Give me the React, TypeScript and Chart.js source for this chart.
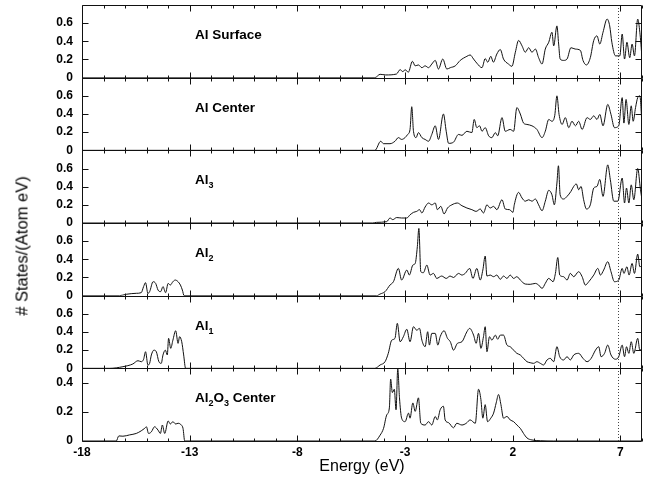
import { useEffect, useRef } from 'react';
import { Chart, registerables } from 'chart.js';

Chart.register(...registerables);

const FONT = '"Liberation Sans", Arial, Helvetica, sans-serif';

const X_TICKS = [-18, -13, -8, -3, 2, 7];
const Y_TICKS = [0, 0.2, 0.4, 0.6];
const Y_TICKS_OXIDE = [0, 0.2, 0.4];
const FERMI_EV = 6.9;

const alSurface: [number, number][] = [
  [-18, 0], [-4.4, 0], [-4.16, 0.037], [-3.9, 0.03], [-3.4, 0.04], [-3.23, 0.088], [-3.1, 0.066], [-3.0, 0.088],
  [-2.85, 0.06], [-2.66, 0.18], [-2.53, 0.13], [-2.38, 0.14], [-2.22, 0.11], [-2.07, 0.13], [-1.91, 0.11],
  [-1.76, 0.15], [-1.6, 0.19], [-1.45, 0.095], [-1.25, 0.205], [-1.06, 0.095], [-0.9, 0.11], [-0.67, 0.13],
  [-0.44, 0.19], [-0.13, 0.235], [0.02, 0.25], [0.18, 0.205], [0.33, 0.16], [0.57, 0.11], [0.72, 0.21],
  [0.84, 0.17], [0.98, 0.235], [1.1, 0.17], [1.26, 0.26], [1.42, 0.31], [1.57, 0.205], [1.8, 0.15],
  [1.96, 0.125], [2.12, 0.28], [2.27, 0.41], [2.43, 0.35], [2.58, 0.28], [2.74, 0.33], [2.89, 0.28],
  [3.05, 0.315], [3.2, 0.22], [3.36, 0.15], [3.51, 0.315], [3.67, 0.39], [3.82, 0.5], [3.9, 0.35],
  [4.05, 0.57], [4.13, 0.37], [4.2, 0.205], [4.36, 0.19], [4.52, 0.205], [4.7, 0.33], [4.9, 0.315],
  [5.14, 0.3], [5.26, 0.19], [5.42, 0.14], [5.6, 0.22], [5.76, 0.41], [5.91, 0.46], [6.04, 0.37],
  [6.19, 0.5], [6.38, 0.645], [6.5, 0.57], [6.6, 0.39], [6.77, 0.24], [6.97, 0.24], [7.08, 0.48],
  [7.19, 0.205], [7.3, 0.39], [7.43, 0.22], [7.54, 0.37], [7.65, 0.24], [7.8, 0.645], [7.9, 0.5], [8.0, 0.22],
];

const alCenter: [number, number][] = [
  [-18, 0], [-4.4, 0], [-4.13, 0.1], [-4.0, 0.073], [-3.7, 0.073], [-3.47, 0.1], [-3.31, 0.14], [-3.16, 0.12],
  [-3.0, 0.14], [-2.88, 0.175], [-2.77, 0.23], [-2.69, 0.48], [-2.61, 0.21], [-2.49, 0.14], [-2.38, 0.195],
  [-2.22, 0.14], [-2.07, 0.12], [-1.91, 0.1], [-1.76, 0.175], [-1.6, 0.27], [-1.45, 0.12], [-1.22, 0.4],
  [-1.09, 0.21], [-0.98, 0.077], [-0.75, 0.09], [-0.52, 0.175], [-0.36, 0.165], [-0.13, 0.21], [0.1, 0.195],
  [0.21, 0.34], [0.33, 0.25], [0.46, 0.27], [0.57, 0.21], [0.72, 0.25], [0.88, 0.16], [1.03, 0.14],
  [1.19, 0.195], [1.3, 0.16], [1.5, 0.36], [1.65, 0.21], [1.88, 0.23], [2.04, 0.21], [2.19, 0.47],
  [2.35, 0.4], [2.5, 0.3], [2.66, 0.285], [2.89, 0.27], [3.12, 0.23], [3.36, 0.14], [3.51, 0.21],
  [3.67, 0.34], [3.82, 0.32], [3.95, 0.385], [4.05, 0.6], [4.15, 0.395], [4.29, 0.285], [4.44, 0.36],
  [4.6, 0.25], [4.75, 0.32], [4.91, 0.27], [5.06, 0.32], [5.22, 0.23], [5.45, 0.36], [5.6, 0.34],
  [5.76, 0.38], [5.91, 0.34], [6.04, 0.395], [6.19, 0.27], [6.41, 0.505], [6.56, 0.395], [6.72, 0.25],
  [6.92, 0.27], [7.08, 0.58], [7.16, 0.3], [7.26, 0.56], [7.39, 0.285], [7.5, 0.49], [7.59, 0.32],
  [7.7, 0.47], [7.8, 0.58], [7.9, 0.6], [8.0, 0.285],
];

const al3: [number, number][] = [
  [-18, 0], [-4.5, 0], [-4.32, 0.007], [-3.85, 0.015], [-3.7, 0.055], [-3.57, 0.037], [-3.39, 0.06],
  [-3.16, 0.055], [-2.92, 0.055], [-2.77, 0.09], [-2.61, 0.117], [-2.46, 0.128], [-2.33, 0.147],
  [-2.22, 0.11], [-2.07, 0.176], [-1.91, 0.22], [-1.76, 0.2], [-1.6, 0.22], [-1.5, 0.147], [-1.34, 0.183],
  [-1.19, 0.1], [-1.03, 0.165], [-0.83, 0.2], [-0.57, 0.22], [-0.36, 0.19], [-0.13, 0.165], [0.1, 0.147],
  [0.3, 0.128], [0.49, 0.154], [0.64, 0.11], [0.8, 0.2], [0.95, 0.165], [1.11, 0.183], [1.26, 0.147],
  [1.5, 0.256], [1.65, 0.154], [1.85, 0.147], [2.01, 0.117], [2.07, 0.2], [2.27, 0.337], [2.43, 0.275],
  [2.58, 0.24], [2.74, 0.256], [2.89, 0.24], [3.05, 0.264], [3.2, 0.2], [3.36, 0.135], [3.51, 0.24],
  [3.67, 0.36], [3.82, 0.31], [3.93, 0.2], [4.05, 0.44], [4.12, 0.63], [4.2, 0.31], [4.36, 0.264],
  [4.52, 0.293], [4.7, 0.348], [4.83, 0.403], [4.95, 0.43], [5.06, 0.366], [5.17, 0.403], [5.29, 0.256],
  [5.42, 0.154], [5.6, 0.2], [5.76, 0.385], [5.91, 0.403], [6.04, 0.48], [6.19, 0.293], [6.41, 0.64],
  [6.53, 0.476], [6.69, 0.24], [6.88, 0.24], [7.08, 0.495], [7.19, 0.22], [7.28, 0.385], [7.39, 0.22],
  [7.5, 0.42], [7.62, 0.256], [7.8, 0.6], [7.93, 0.366], [8.0, 0.256],
];

const al2: [number, number][] = [
  [-18, 0], [-16.26, 0], [-15.95, 0.015], [-15.48, 0.026], [-15.25, 0.033], [-15.14, 0.1], [-15.05, 0.143],
  [-14.94, 0.026], [-14.86, 0.044], [-14.7, 0.154], [-14.58, 0.135], [-14.47, 0.062], [-14.35, 0.044],
  [-14.24, 0.1], [-14.12, 0.033], [-14.0, 0.135], [-13.9, 0.117], [-13.78, 0.154], [-13.67, 0.172],
  [-13.54, 0.154], [-13.43, 0.117], [-13.34, 0.062], [-13.26, 0],
  [-4.32, 0], [-4.16, 0.018], [-3.93, 0.044], [-3.7, 0.117], [-3.54, 0.154], [-3.31, 0.3], [-3.16, 0.172],
  [-2.92, 0.282], [-2.8, 0.227], [-2.64, 0.337], [-2.53, 0.355], [-2.43, 0.54], [-2.36, 0.74], [-2.27, 0.264],
  [-2.15, 0.253], [-1.99, 0.337], [-1.84, 0.227], [-1.68, 0.245], [-1.53, 0.19], [-1.3, 0.216], [-1.09, 0.19],
  [-0.91, 0.216], [-0.75, 0.2], [-0.52, 0.245], [-0.36, 0.227], [-0.21, 0.245], [0.0, 0.3], [0.15, 0.19],
  [0.33, 0.3], [0.49, 0.172], [0.61, 0.282], [0.72, 0.436], [0.8, 0.216], [0.95, 0.227], [1.11, 0.209],
  [1.26, 0.227], [1.42, 0.18], [1.57, 0.216], [1.73, 0.19], [1.88, 0.227], [2.04, 0.19], [2.19, 0.209],
  [2.35, 0.172], [2.58, 0.128], [2.81, 0.125], [3.05, 0.135], [3.2, 0.117], [3.36, 0.08], [3.51, 0.135],
  [3.67, 0.19], [3.87, 0.154], [3.98, 0.245], [4.09, 0.42], [4.18, 0.227], [4.36, 0.209], [4.52, 0.172],
  [4.67, 0.245], [4.83, 0.209], [5.06, 0.264], [5.22, 0.209], [5.37, 0.117], [5.53, 0.154], [5.76, 0.227],
  [5.95, 0.3], [6.07, 0.227], [6.22, 0.282], [6.41, 0.374], [6.56, 0.264], [6.72, 0.154], [6.92, 0.172],
  [7.08, 0.3], [7.16, 0.245], [7.3, 0.318], [7.4, 0.227], [7.54, 0.355], [7.65, 0.245], [7.8, 0.458],
  [7.9, 0.318], [8.0, 0.337],
];

const al1: [number, number][] = [
  [-18, 0], [-16.72, 0], [-16.1, 0.018], [-15.64, 0.048], [-15.4, 0.084], [-15.25, 0.073], [-15.14, 0.1],
  [-15.05, 0.183], [-14.94, 0.037], [-14.86, 0.055], [-14.78, 0.147], [-14.66, 0.2], [-14.55, 0.183],
  [-14.43, 0.073], [-14.32, 0.055], [-14.24, 0.147], [-14.13, 0.2], [-14.04, 0.147], [-13.98, 0.33],
  [-13.88, 0.22], [-13.78, 0.31], [-13.65, 0.414], [-13.54, 0.275], [-13.47, 0.348], [-13.37, 0.293],
  [-13.28, 0.147], [-13.19, 0],
  [-4.4, 0], [-4.16, 0.037], [-3.93, 0.073], [-3.78, 0.165], [-3.62, 0.31], [-3.47, 0.33], [-3.36, 0.495],
  [-3.23, 0.293], [-3.08, 0.348], [-2.92, 0.43], [-2.77, 0.293], [-2.61, 0.458], [-2.46, 0.42], [-2.33, 0.44],
  [-2.22, 0.31], [-2.07, 0.238], [-1.95, 0.403], [-1.87, 0.256], [-1.76, 0.385], [-1.6, 0.385], [-1.48, 0.256],
  [-1.37, 0.348], [-1.19, 0.414], [-1.03, 0.33], [-0.9, 0.293], [-0.75, 0.2], [-0.57, 0.275], [-0.36, 0.293],
  [-0.13, 0.403], [0.0, 0.44], [0.18, 0.366], [0.3, 0.275], [0.41, 0.385], [0.52, 0.22], [0.64, 0.348],
  [0.72, 0.458], [0.8, 0.183], [0.92, 0.348], [1.03, 0.31], [1.19, 0.366], [1.3, 0.32], [1.42, 0.366],
  [1.57, 0.366], [1.73, 0.256], [1.88, 0.238], [2.04, 0.2], [2.19, 0.165], [2.35, 0.147], [2.5, 0.11],
  [2.66, 0.073], [2.81, 0.062], [2.97, 0.055], [3.12, 0.073], [3.28, 0.055], [3.43, 0.037], [3.59, 0.092],
  [3.74, 0.11], [3.9, 0.073], [4.05, 0.238], [4.18, 0.128], [4.36, 0.092], [4.52, 0.128], [4.67, 0.092],
  [4.83, 0.147], [5.06, 0.165], [5.26, 0.11], [5.45, 0.073], [5.64, 0.11], [5.84, 0.2], [5.99, 0.238],
  [6.1, 0.128], [6.26, 0.165], [6.41, 0.256], [6.56, 0.147], [6.77, 0.1], [6.92, 0.128], [7.08, 0.256],
  [7.19, 0.128], [7.28, 0.238], [7.39, 0.165], [7.5, 0.293], [7.62, 0.165], [7.8, 0.33], [7.9, 0.2], [8.0, 0.22],
];

const al2o3Center: [number, number][] = [
  [-18, 0], [-16.41, 0], [-16.29, 0.035], [-16.1, 0.033], [-15.79, 0.042], [-15.48, 0.052], [-15.25, 0.07],
  [-15.09, 0.087], [-15.01, 0.098], [-14.91, 0.052], [-14.78, 0.063], [-14.63, 0.098], [-14.47, 0.075],
  [-14.36, 0.052], [-14.27, 0.11], [-14.16, 0.052], [-14.0, 0.138], [-13.9, 0.117], [-13.78, 0.133],
  [-13.65, 0.117], [-13.54, 0.122], [-13.39, 0.11], [-13.31, 0.087], [-13.23, 0],
  [-4.4, 0], [-4.16, 0.04], [-4.0, 0.087], [-3.85, 0.18], [-3.73, 0.227], [-3.67, 0.426], [-3.59, 0.333],
  [-3.5, 0.356], [-3.42, 0.215], [-3.34, 0.496], [-3.26, 0.297], [-3.16, 0.157], [-3.0, 0.133], [-2.84, 0.192],
  [-2.77, 0.157], [-2.64, 0.262], [-2.53, 0.204], [-2.38, 0.297], [-2.27, 0.122], [-2.07, 0.11], [-1.91, 0.133],
  [-1.76, 0.11], [-1.6, 0.169], [-1.5, 0.145], [-1.37, 0.215], [-1.22, 0.239], [-1.14, 0.145], [-0.98, 0.126],
  [-0.75, 0.091], [-0.6, 0.122], [-0.36, 0.11], [-0.16, 0.122], [0.02, 0.145], [0.26, 0.122], [0.41, 0.356],
  [0.52, 0.286], [0.61, 0.157], [0.72, 0.25], [0.83, 0.133], [0.98, 0.157], [1.11, 0.192], [1.23, 0.262],
  [1.34, 0.32], [1.45, 0.25], [1.57, 0.157], [1.73, 0.169], [1.88, 0.145], [2.04, 0.133], [2.19, 0.11],
  [2.35, 0.087], [2.5, 0.052], [2.66, 0.021], [2.89, 0.007], [3.28, 0.002], [3.9, 0], [8.0, 0],
];

type Seg = [string, boolean];

const PANELS: { id: string; label: Seg[]; data: [number, number][]; max: number; ticks: number[] }[] = [
  { id: 'pSurf', label: [['Al Surface', false]], data: alSurface, max: 0.8, ticks: Y_TICKS },
  { id: 'pCent', label: [['Al Center', false]], data: alCenter, max: 0.8, ticks: Y_TICKS },
  { id: 'pAl3', label: [['Al', false], ['3', true]], data: al3, max: 0.8, ticks: Y_TICKS },
  { id: 'pAl2', label: [['Al', false], ['2', true]], data: al2, max: 0.8, ticks: Y_TICKS },
  { id: 'pAl1', label: [['Al', false], ['1', true]], data: al1, max: 0.8, ticks: Y_TICKS },
  {
    id: 'pOx',
    label: [['Al', false], ['2', true], ['O', false], ['3', true], [' Center', false]],
    data: al2o3Center,
    max: 0.5,
    ticks: Y_TICKS_OXIDE,
  },
];

const framePlugin = {
  id: 'panelFrame',
  afterDatasetsDraw(chart: any) {
    const { ctx, chartArea } = chart;
    const xs = chart.scales.x;
    const left = Math.round(chartArea.left) + 0.5;
    const right = Math.round(chartArea.right) - 0.5;
    ctx.save();
    ctx.lineWidth = 1;
    const fx = Math.round(xs.getPixelForValue(FERMI_EV)) + 0.5;
    ctx.setLineDash([1, 2]);
    ctx.strokeStyle = '#444';
    ctx.beginPath();
    ctx.moveTo(fx, chartArea.top);
    ctx.lineTo(fx, chartArea.bottom);
    ctx.stroke();
    ctx.setLineDash([]);
    ctx.strokeStyle = '#111';
    PANELS.forEach((p) => {
      const s = chart.scales[p.id];
      const top = Math.round(s.top) + 0.5;
      const bottom = Math.round(s.bottom) + 0.5;
      ctx.beginPath();
      ctx.moveTo(left, top);
      ctx.lineTo(right, top);
      ctx.lineTo(right, bottom);
      ctx.lineTo(left, bottom);
      ctx.closePath();
      for (let v = -18; v <= 8; v++) {
        const px = Math.round(xs.getPixelForValue(v)) + 0.5;
        const len = X_TICKS.includes(v) ? 6 : 3;
        ctx.moveTo(px, bottom);
        ctx.lineTo(px, bottom - len);
        ctx.moveTo(px, top);
        ctx.lineTo(px, top + len);
      }
      p.ticks.forEach((t) => {
        if (t === 0) return;
        const py = Math.round(s.getPixelForValue(t)) + 0.5;
        ctx.moveTo(left, py);
        ctx.lineTo(left + 6, py);
        ctx.moveTo(right, py);
        ctx.lineTo(right - 6, py);
      });
      ctx.stroke();
    });
    ctx.restore();
  },
};

export default function App() {
  const canvasRef = useRef<HTMLCanvasElement | null>(null);

  useEffect(() => {
    if (!canvasRef.current) return;
    const scales: any = {
      x: {
        type: 'linear',
        position: 'bottom',
        min: -18,
        max: 8,
        grid: { display: false, drawTicks: false },
        border: { display: false },
        afterBuildTicks: (s: any) => {
          s.ticks = X_TICKS.map((v) => ({ value: v }));
        },
        afterFit: (s: any) => {
          s.height = 40;
          s.paddingLeft = 0;
          s.paddingRight = 0;
        },
        ticks: {
          color: '#000',
          padding: 4,
          maxRotation: 0,
          autoSkip: false,
          font: { family: FONT, size: 12, weight: 'bold' },
        },
        title: {
          display: true,
          text: 'Energy (eV)',
          color: '#000',
          font: { family: FONT, size: 16 },
          padding: { top: 0, bottom: 5 },
        },
      },
    };
    // bottom panel defined first so that stacked left axes place it lowest
    [...PANELS].reverse().forEach((p) => {
      scales[p.id] = {
        type: 'linear',
        position: 'left',
        stack: 'dos',
        stackWeight: 1,
        offset: false,
        min: 0,
        max: p.max,
        grid: { display: false, drawTicks: false },
        border: { display: false },
        afterBuildTicks: (s: any) => {
          s.ticks = p.ticks.map((v) => ({ value: v }));
        },
        afterFit: (s: any) => {
          s.width = 82;
          s.paddingTop = 0;
          s.paddingBottom = 0;
        },
        ticks: {
          color: '#000',
          padding: 9,
          autoSkip: false,
          font: { family: FONT, size: 12, weight: 'bold' },
          callback: (v: number) => (v === 0 ? '0' : v.toFixed(1)),
        },
      };
    });

    const chart = new Chart(canvasRef.current, {
      type: 'line',
      data: {
        datasets: PANELS.map((p) => ({
          label: p.label.map((s) => s[0]).join(''),
          data: p.data.map(([e, v]) => ({ x: e, y: v })),
          yAxisID: p.id,
          borderColor: '#111',
          borderWidth: 1,
          pointRadius: 0,
          fill: false,
          cubicInterpolationMode: 'monotone' as const,
        })),
      },
      options: {
        responsive: false,
        animation: false,
        layout: { padding: { top: 5, right: 10, left: 0, bottom: 0 } },
        plugins: { legend: { display: false }, tooltip: { enabled: false } },
        scales,
      },
      plugins: [framePlugin],
    });
    return () => chart.destroy();
  }, []);

  const panelH = 436 / 6;

  return (
    <div style={{ position: 'absolute', left: 0, top: 0, width: 652, height: 481, background: '#fff', fontFamily: FONT }}>
      <canvas ref={canvasRef} width={652} height={481} style={{ display: 'block' }} />
      {PANELS.map((p, i) => (
        <div
          key={p.id}
          style={{
            position: 'absolute',
            left: 195,
            top: 5 + i * panelH + 30,
            transform: 'translateY(-50%)',
            fontSize: 13.5,
            fontWeight: 'bold',
            lineHeight: '16px',
            whiteSpace: 'nowrap',
            color: '#000',
          }}
        >
          {p.label.map((s, j) =>
            s[1] ? (
              <span key={j} style={{ fontSize: 9, position: 'relative', top: 4 }}>
                {s[0]}
              </span>
            ) : (
              <span key={j}>{s[0]}</span>
            )
          )}
        </div>
      ))}
      <div
        style={{
          position: 'absolute',
          left: 22,
          top: 246,
          transform: 'translate(-50%, -50%) rotate(-90deg)',
          fontSize: 16.5,
          whiteSpace: 'nowrap',
          color: '#000',
        }}
      >
        # States/(Atom eV)
      </div>
    </div>
  );
}
